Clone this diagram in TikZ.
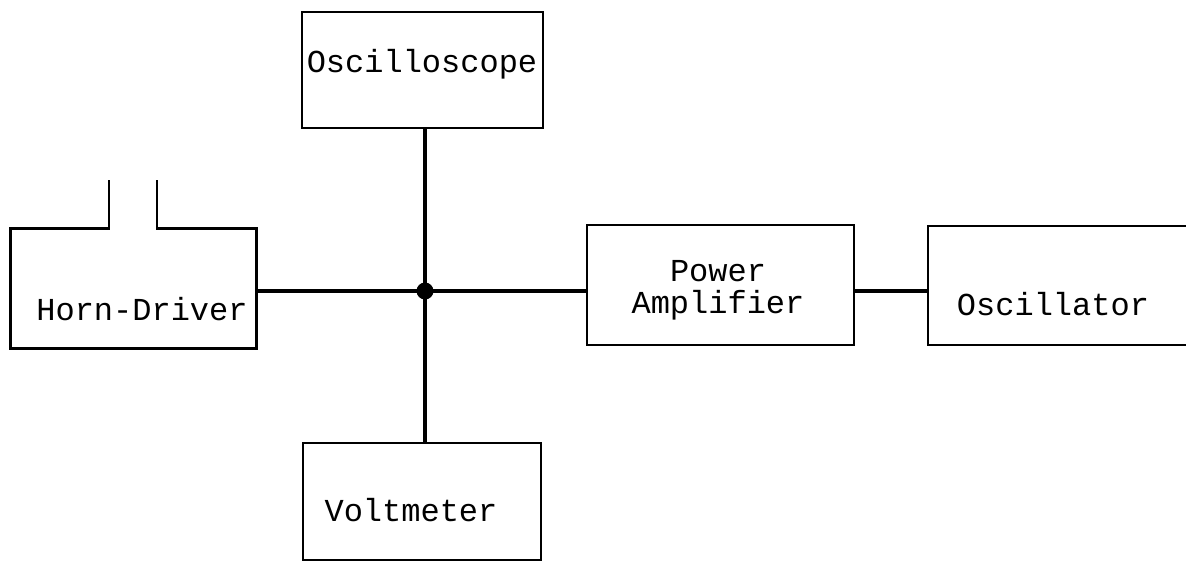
\documentclass[tikz,border=0pt]{standalone}
\usepackage{fontspec}
\newfontfamily\typewriter{Liberation Mono}
\begin{document}
\begin{tikzpicture}[x=1pt,y=-1pt,
  box/.style={draw=black, line width=2.8pt, inner sep=0pt, rectangle},
  wire/.style={draw=black, line width=4.5pt},
  lbl/.style={inner sep=0pt, anchor=base, font=\typewriter\fontsize{32}{27}\selectfont}]
\useasboundingbox (0,0) rectangle (1186,563);
\clip (0,0) rectangle (1186,563);

% instrument boxes
\node[box, minimum width=241pt, minimum height=116pt] (scope) at (422.5,70) {};
\node[inner sep=0pt, minimum width=245pt, minimum height=119pt] (horn) at (133.5,288.5) {};
\node[box, minimum width=267pt, minimum height=120pt] (pa) at (720.5,285) {};
\node[box, minimum width=272pt, minimum height=119pt] (osc) at (1064,285.5) {};
\node[box, minimum width=238pt, minimum height=117pt] (volt) at (422,501.5) {};

% horn driver housing with its throat on top
\coordinate (throatL) at (109,180);
\coordinate (throatR) at (157,180);
\draw[line width=2.8pt, line join=miter]
  (throatL) -- (throatL |- horn.north) -- (horn.north west) -- (horn.south west)
  -- (horn.south east) -- (horn.north east) -- (throatR |- horn.north) -- (throatR);

% labels
\node[lbl] (tscope) at (422,72) {Oscilloscope};
\node[lbl] (thorn) at (142,320) {Horn-Driver};
\node[lbl] (tpower) at (718,281) {Power};
\node[lbl] (tamp) at (718,313) {Amplifier};
\node[lbl] (tosc) at (1053,315) {Oscillator};
\node[lbl] (tvolt) at (411,521) {Voltmeter};

% wiring
\coordinate (j) at (425,291);
\draw[wire] (scope.south -| j) -- (volt.north -| j);
\draw[wire] (horn.east |- j) -- (pa.west |- j);
\draw[wire] (pa.east |- j) -- (osc.west |- j);
\fill (j) circle (8.5pt);
\end{tikzpicture}
\end{document}
